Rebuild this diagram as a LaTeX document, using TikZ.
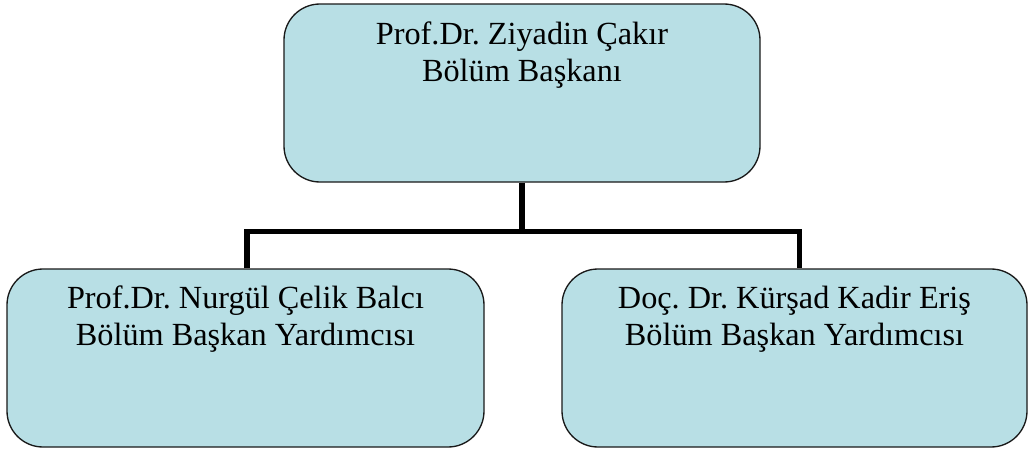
\documentclass[tikz,border=0pt]{standalone}
\usepackage{fontspec}
\setmainfont{Liberation Serif}
\definecolor{boxfill}{HTML}{B8DFE5}
\begin{document}
\frenchspacing
\begin{tikzpicture}[x=0.75pt,y=-0.75pt,
  orgbox/.style={draw=black!90,line width=1pt,fill=boxfill,rounded corners=27pt,
    inner sep=0pt,minimum height=133.5pt},
  conn/.style={line width=3.8pt,black}]
\useasboundingbox (0,0) rectangle (1029,450);
\newcommand{\boxtext}[2]{\begin{minipage}[c][133.5pt][t]{#1}\centering\fontsize{24.2pt}{27.75pt}\selectfont#2\end{minipage}}
\node[orgbox] (top) at (522,93) {\boxtext{357pt}{\rule{0pt}{30pt}Prof.Dr. Ziyadin Çakır\\Bölüm Başkanı}};
\node[orgbox] (lb) at (245.5,358) {\boxtext{357.75pt}{\rule{0pt}{29.5pt}Prof.Dr. Nurgül Çelik Balcı\\Bölüm Başkan Yardımcısı}};
\node[orgbox] (rb) at (794.5,358) {\boxtext{348.75pt}{\rule{0pt}{29.5pt}Doç. Dr. Kürşad Kadir Eriş\\ Bölüm Başkan Yardımcısı}};
\coordinate (j) at (522,231.5);
\draw[conn] (top.south) -- (j);
\draw[conn] ([xshift=1.1pt]lb.north) |- (j) -| ([xshift=3.4pt]rb.north);
\end{tikzpicture}
\end{document}
